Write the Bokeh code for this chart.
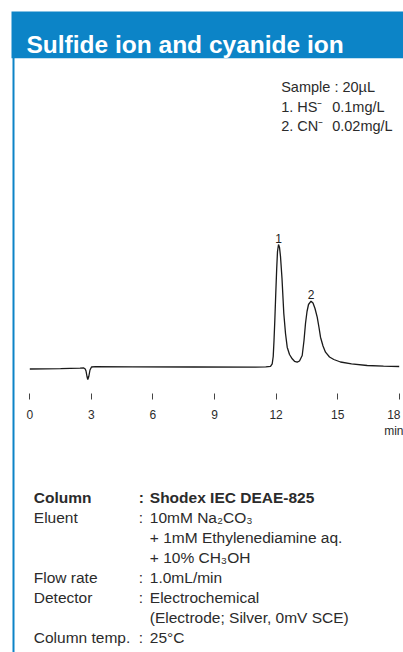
import numpy as np
from bokeh.plotting import figure
from bokeh.models import Range1d, LinearAxis, FixedTicker
from bokeh.core.properties import value
from bokeh.embed import file_html
from bokeh.resources import INLINE

# ---------------- data ----------------
title_text = "Sulfide ion and cyanide ion"

time_min = [0.0, 1.5, 2.45, 2.63, 2.70, 2.739, 2.787, 2.826, 2.875, 2.933, 3.007, 3.2,
            5.0, 8.0, 11.0, 11.5, 11.729, 11.812, 11.861, 11.900, 11.939, 11.982,
            12.031, 12.070, 12.119, 12.168, 12.216, 12.289, 12.377, 12.460, 12.543,
            12.655, 12.786, 12.899, 13.030, 13.142, 13.274, 13.361, 13.434, 13.508,
            13.581, 13.703, 13.800, 13.897, 14.005, 14.092, 14.166, 14.287, 14.409,
            14.604, 14.814, 15.140, 15.676, 16.441, 17.235, 18.0]
response = [0.0, 0.3, 0.8, 1.0, 0.0, -2.0, -7.5, -10.5, -7.5, -1.0, 2.0, 2.4,
            2.2, 2.0, 1.9, 2.1, 2.6, 5.2, 12.5, 28.5, 48.5, 73.5,
            100.5, 117.5, 124.5, 121.5, 112.5, 90.5, 55.5, 35.5, 21.8,
            14.5, 10.2, 7.7, 6.8, 8.0, 13.5, 28.5, 45.5, 57.5,
            64.5, 67.8, 66.0, 60.5, 51.8, 41.5, 31.8, 23.0, 16.8,
            12.0, 9.5, 7.0, 5.2, 3.5, 2.8, 2.5]

peak_labels = ["1", "2"]
tick_values = [0, 3, 6, 9, 12, 15, 18]
time_unit = "min"

sample_lines = ["Sample : 20µL", "1. HS⁻", "2. CN⁻"]
sample_amounts = ["", "0.1mg/L", "0.02mg/L"]

cond_labels = ["Column", "Eluent", "", "", "Flow rate", "Detector", "", "Column temp."]
cond_colons = [":", ":", "", "", ":", ":", "", ":"]
cond_values = ["Shodex IEC DEAE-825", "10mM Na₂CO₃", "+ 1mM Ethylenediamine aq.",
               "+ 10% CH₃OH", "1.0mL/min", "Electrochemical",
               "(Electrode; Silver, 0mV SCE)", "25°C"]

# ---------------- styling / layout ----------------
W, H = 403, 652
BLUE = "#0c84c7"
TXT = "#2b2b2b"
FONT = value("Liberation Sans")

px_per_min = (398.7 - 29.3) / 18.0
t0_px = 29.3
base_px = 368.5

p = figure(width=W, height=H, x_range=Range1d(0, W), y_range=Range1d(H, 0),
           min_border=0, toolbar_location=None, output_backend="svg",
           x_axis_location=None, y_axis_location=None, outline_line_color=None,
           background_fill_color="white", border_fill_color="white")
p.grid.visible = False

p.extra_x_ranges = {"time": Range1d(-t0_px / px_per_min, (W - t0_px) / px_per_min)}
p.extra_y_ranges = {"resp": Range1d(base_px - H, base_px)}

# header band and left rule
p.quad(left=11, right=W, top=11, bottom=57.7, fill_color=BLUE, line_color=None)
p.quad(left=12, right=14, top=57, bottom=H, fill_color=BLUE, line_color=None)
p.text(x=[26], y=[43.5], text=[title_text], text_color="white",
       text_font=FONT, text_font_style="bold", text_font_size="24.5px",
       text_baseline="alphabetic", text_align="left")

# chromatogram
p.line(time_min, response, x_range_name="time", y_range_name="resp",
       line_color="#1a1a1a", line_width=1.3)

t_arr = np.array(time_min)
r_arr = np.array(response)
peak_t, peak_r = [], []
for lo, hi in [(11.5, 13.0), (13.0, 15.0)]:
    m = (t_arr >= lo) & (t_arr < hi)
    i = int(np.argmax(np.where(m, r_arr, -np.inf)))
    peak_t.append(float(t_arr[i]))
    peak_r.append(float(r_arr[i]) + 6.5)
p.text(x=peak_t, y=peak_r, text=peak_labels, x_range_name="time", y_range_name="resp",
       text_align="center", text_baseline="alphabetic",
       text_font=FONT, text_font_size="12px", text_color="#222222")

xaxis = LinearAxis(x_range_name="time", fixed_location=393,
                   ticker=FixedTicker(ticks=tick_values))
xaxis.axis_line_color = None
xaxis.major_tick_in = 0
xaxis.major_tick_out = 6
xaxis.major_tick_line_color = "#444444"
xaxis.minor_tick_line_color = None
xaxis.major_label_text_font = "Liberation Sans"
xaxis.major_label_text_font_size = "12px"
xaxis.major_label_text_color = TXT
xaxis.major_label_standoff = 8
xaxis.major_label_overrides = {tick_values[-1]: f"{tick_values[-1]}\n{time_unit}"}
p.add_layout(xaxis, "below")

# sample info
sy = [86.7, 106.3, 125.9]
p.text(x=[280.7] * 3, y=sy, text=sample_lines, text_font=FONT, text_font_size="14.5px",
       text_color=TXT, text_baseline="alphabetic", text_align="left")
p.text(x=[331.7] * 3, y=sy, text=sample_amounts, text_font=FONT, text_font_size="14.5px",
       text_color=TXT, text_baseline="alphabetic", text_align="left")

# conditions block
cy = [497.3 + 19.9 * i for i in range(len(cond_values))]
styles = ["bold"] + ["normal"] * (len(cond_values) - 1)
for lab, col, val, yy, st in zip(cond_labels, cond_colons, cond_values, cy, styles):
    for xx, tx in [(33.3, lab), (138.3, col), (149.3, val)]:
        if tx:
            p.text(x=[xx], y=[yy], text=[tx], text_font=FONT, text_font_size="15.5px",
                   text_font_style=st, text_color=TXT, text_baseline="alphabetic",
                   text_align="left")

open("out.html", "w").write(file_html(p, INLINE))
